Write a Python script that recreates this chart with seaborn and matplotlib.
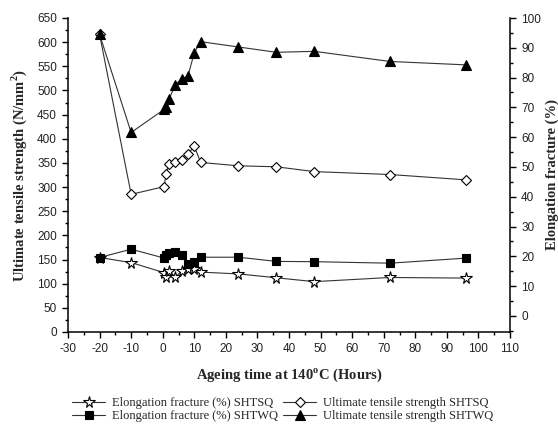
import matplotlib
matplotlib.use("Agg")
import matplotlib.pyplot as plt
from matplotlib.ticker import MultipleLocator
import seaborn as sns

# Ageing times (hours); -20 and -10 are the as-received / solution-treated states
time_h = [-20, -10, 0.5, 1, 2, 4, 6, 8, 10, 12, 24, 36, 48, 72, 96]

# Ultimate tensile strength (N/mm^2)
uts_shtsq = [616, 285, 301, 327, 348, 351, 356, 368, 385, 351, 344, 342, 332, 326, 315]
uts_shtwq = [616, 413, 461, 465, 482, 512, 524, 530, 578, 601, 590, 579, 581, 560, 553]

# Elongation at fracture (%)
elong_shtsq = [19.6, 17.9, 14.5, 13.2, 15.2, 13.0, 15.1, 15.7, 15.8, 14.7, 14.1, 12.8, 11.5, 12.9, 12.7]
elong_shtwq = [19.6, 22.4, 19.4, 20.5, 21.2, 21.5, 20.6, 17.4, 18.2, 19.7, 19.7, 18.3, 18.2, 17.7, 19.4]

labels = [
    "Elongation fracture (%) SHTSQ",
    "Elongation fracture (%) SHTWQ",
    "Ultimate tensile strength SHTSQ",
    "Ultimate tensile strength SHTWQ",
]

sns.set_style("white")
plt.rcParams["font.family"] = ["Liberation Sans", "DejaVu Sans"]
plt.rcParams["axes.unicode_minus"] = False

W, H = 558, 424
fig = plt.figure(figsize=(W / 100, H / 100), dpi=100)
x0, x1, y_top, y_bot = 68, 510, 18, 332
ax = fig.add_axes([x0 / W, 1 - y_bot / H, (x1 - x0) / W, (y_bot - y_top) / H])
ax2 = ax.twinx()

line_kw = dict(color="#333333", linewidth=0.8, markeredgecolor="black",
               markeredgewidth=0.8)

sns.lineplot(x=time_h, y=elong_shtsq, ax=ax2, marker="*", markersize=8.5,
             markerfacecolor="white", label=labels[0], legend=False, **line_kw)
sns.lineplot(x=time_h, y=elong_shtwq, ax=ax2, marker="s", markersize=5.5,
             markerfacecolor="black", label=labels[1], legend=False, **line_kw)
sns.lineplot(x=time_h, y=uts_shtsq, ax=ax, marker="D", markersize=5.5,
             markerfacecolor="white", label=labels[2], legend=False, **line_kw)
sns.lineplot(x=time_h, y=uts_shtwq, ax=ax, marker="^", markersize=7,
             markerfacecolor="black", label=labels[3], legend=False, **line_kw)

ax.set_xlim(-30, 110)
ax.set_ylim(0, 650)

ax.xaxis.set_major_locator(MultipleLocator(10))
ax.xaxis.set_minor_locator(MultipleLocator(5))
ax.yaxis.set_major_locator(MultipleLocator(50))
ax.yaxis.set_minor_locator(MultipleLocator(25))
ax2.yaxis.set_major_locator(MultipleLocator(10))
ax2.yaxis.set_minor_locator(MultipleLocator(5))
ax2.set_ylim(-5.4, 100)

for a in (ax, ax2):
    a.grid(False)
    a.spines["top"].set_visible(False)
    for s in a.spines.values():
        s.set_color("black")
        s.set_linewidth(1.1)
    a.tick_params(which="major", direction="out", length=4.5, width=1,
                  labelsize=8.5, color="black", labelcolor="#222222")
    a.tick_params(which="minor", direction="out", length=2.5, width=1,
                  color="black")
ax.spines["right"].set_visible(False)
ax2.spines["left"].set_visible(False)
ax2.spines["bottom"].set_visible(False)
ax.tick_params(axis="both", which="both", left=True, bottom=True)
ax2.tick_params(axis="y", which="both", right=True)

serif = ["Liberation Serif", "DejaVu Serif"]
ax.set_xlabel("Ageing time at 140$^{\\mathregular{o}}$C (Hours)", family=serif,
              fontweight="bold", fontsize=10.5, labelpad=8)
ax.set_ylabel("Ultimate tensile strength (N/mm$^{\\mathregular{2}}$)", family=serif,
              fontweight="bold", fontsize=10.5, labelpad=6)
ax2.set_ylabel("Elongation fracture (%)", family=serif, fontweight="bold",
               fontsize=10.5, labelpad=3)

handles = ax2.get_lines() + ax.get_lines()
fig.legend(handles=handles, labels=labels, loc="upper center",
           bbox_to_anchor=(283 / W, 1 - 397 / H), ncol=2, frameon=False,
           prop={"family": serif, "size": 9}, handlelength=2.6,
           handletextpad=0.6, columnspacing=0.4, labelspacing=0.1,
           borderpad=0, borderaxespad=0)

fig.savefig("out.png", dpi=100)
